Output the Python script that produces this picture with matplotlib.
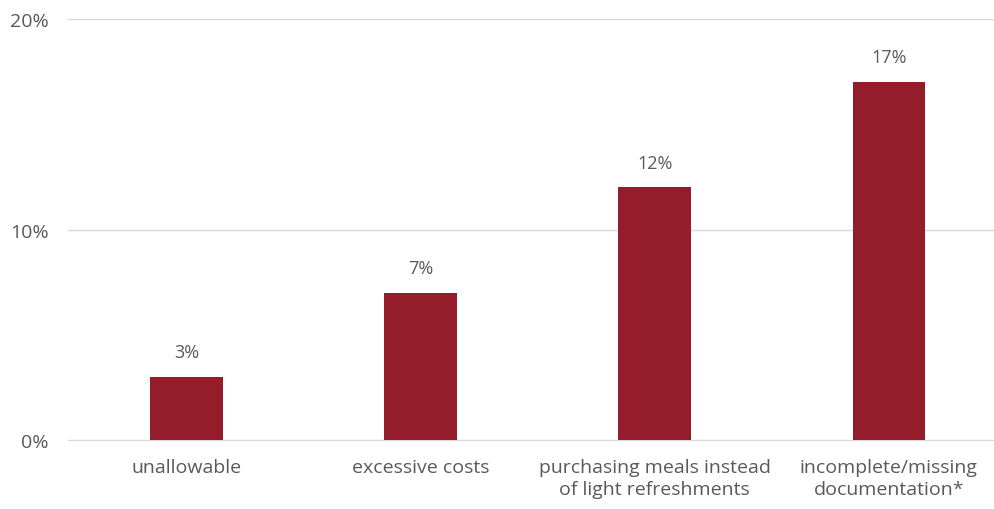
import matplotlib.pyplot as plt
import numpy as np

# Data
categories = ['unallowable', 'excessive costs',
              'purchasing meals instead\nof light refreshments',
              'incomplete/missing\ndocumentation*']
values = [3, 7, 12, 17]
yticks = [0, 10, 20]
ytick_labels = ['0%', '10%', '20%']

plt.rcParams['font.family'] = ['Open Sans', 'DejaVu Sans']
text_color = '#595959'
fs = 14

fig = plt.figure(figsize=(9.95, 5.10), dpi=100)
ax = fig.add_axes([68 / 995, 1 - 441 / 510, 1 - 68 / 995, (441 - 20) / 510])

x = np.arange(len(categories))
ax.bar(x, values, width=0.31, color='#951C2B', zorder=3)

# Value labels above bars
for xi, v in zip(x, values):
    ax.text(xi, v + 0.75, f'{v}%', ha='center', va='bottom',
            fontsize=13, color=text_color)

ax.set_ylim(0, 20)
ax.set_xlim(-0.506, 3.453)
ax.set_yticks(yticks)
ax.set_yticklabels(ytick_labels, fontsize=fs, color=text_color)
ax.set_xticks(x)
ax.set_xticklabels(categories, fontsize=fs, color=text_color, linespacing=1.3)

ax.yaxis.grid(True, color='#D9D9D9', linewidth=1, zorder=0)
ax.tick_params(axis='both', length=0)
ax.tick_params(axis='y', pad=14)
ax.tick_params(axis='x', pad=13)
for s in ['top', 'right', 'left']:
    ax.spines[s].set_visible(False)
ax.spines['bottom'].set_color('#D9D9D9')

fig.savefig('out.png', dpi=100)
